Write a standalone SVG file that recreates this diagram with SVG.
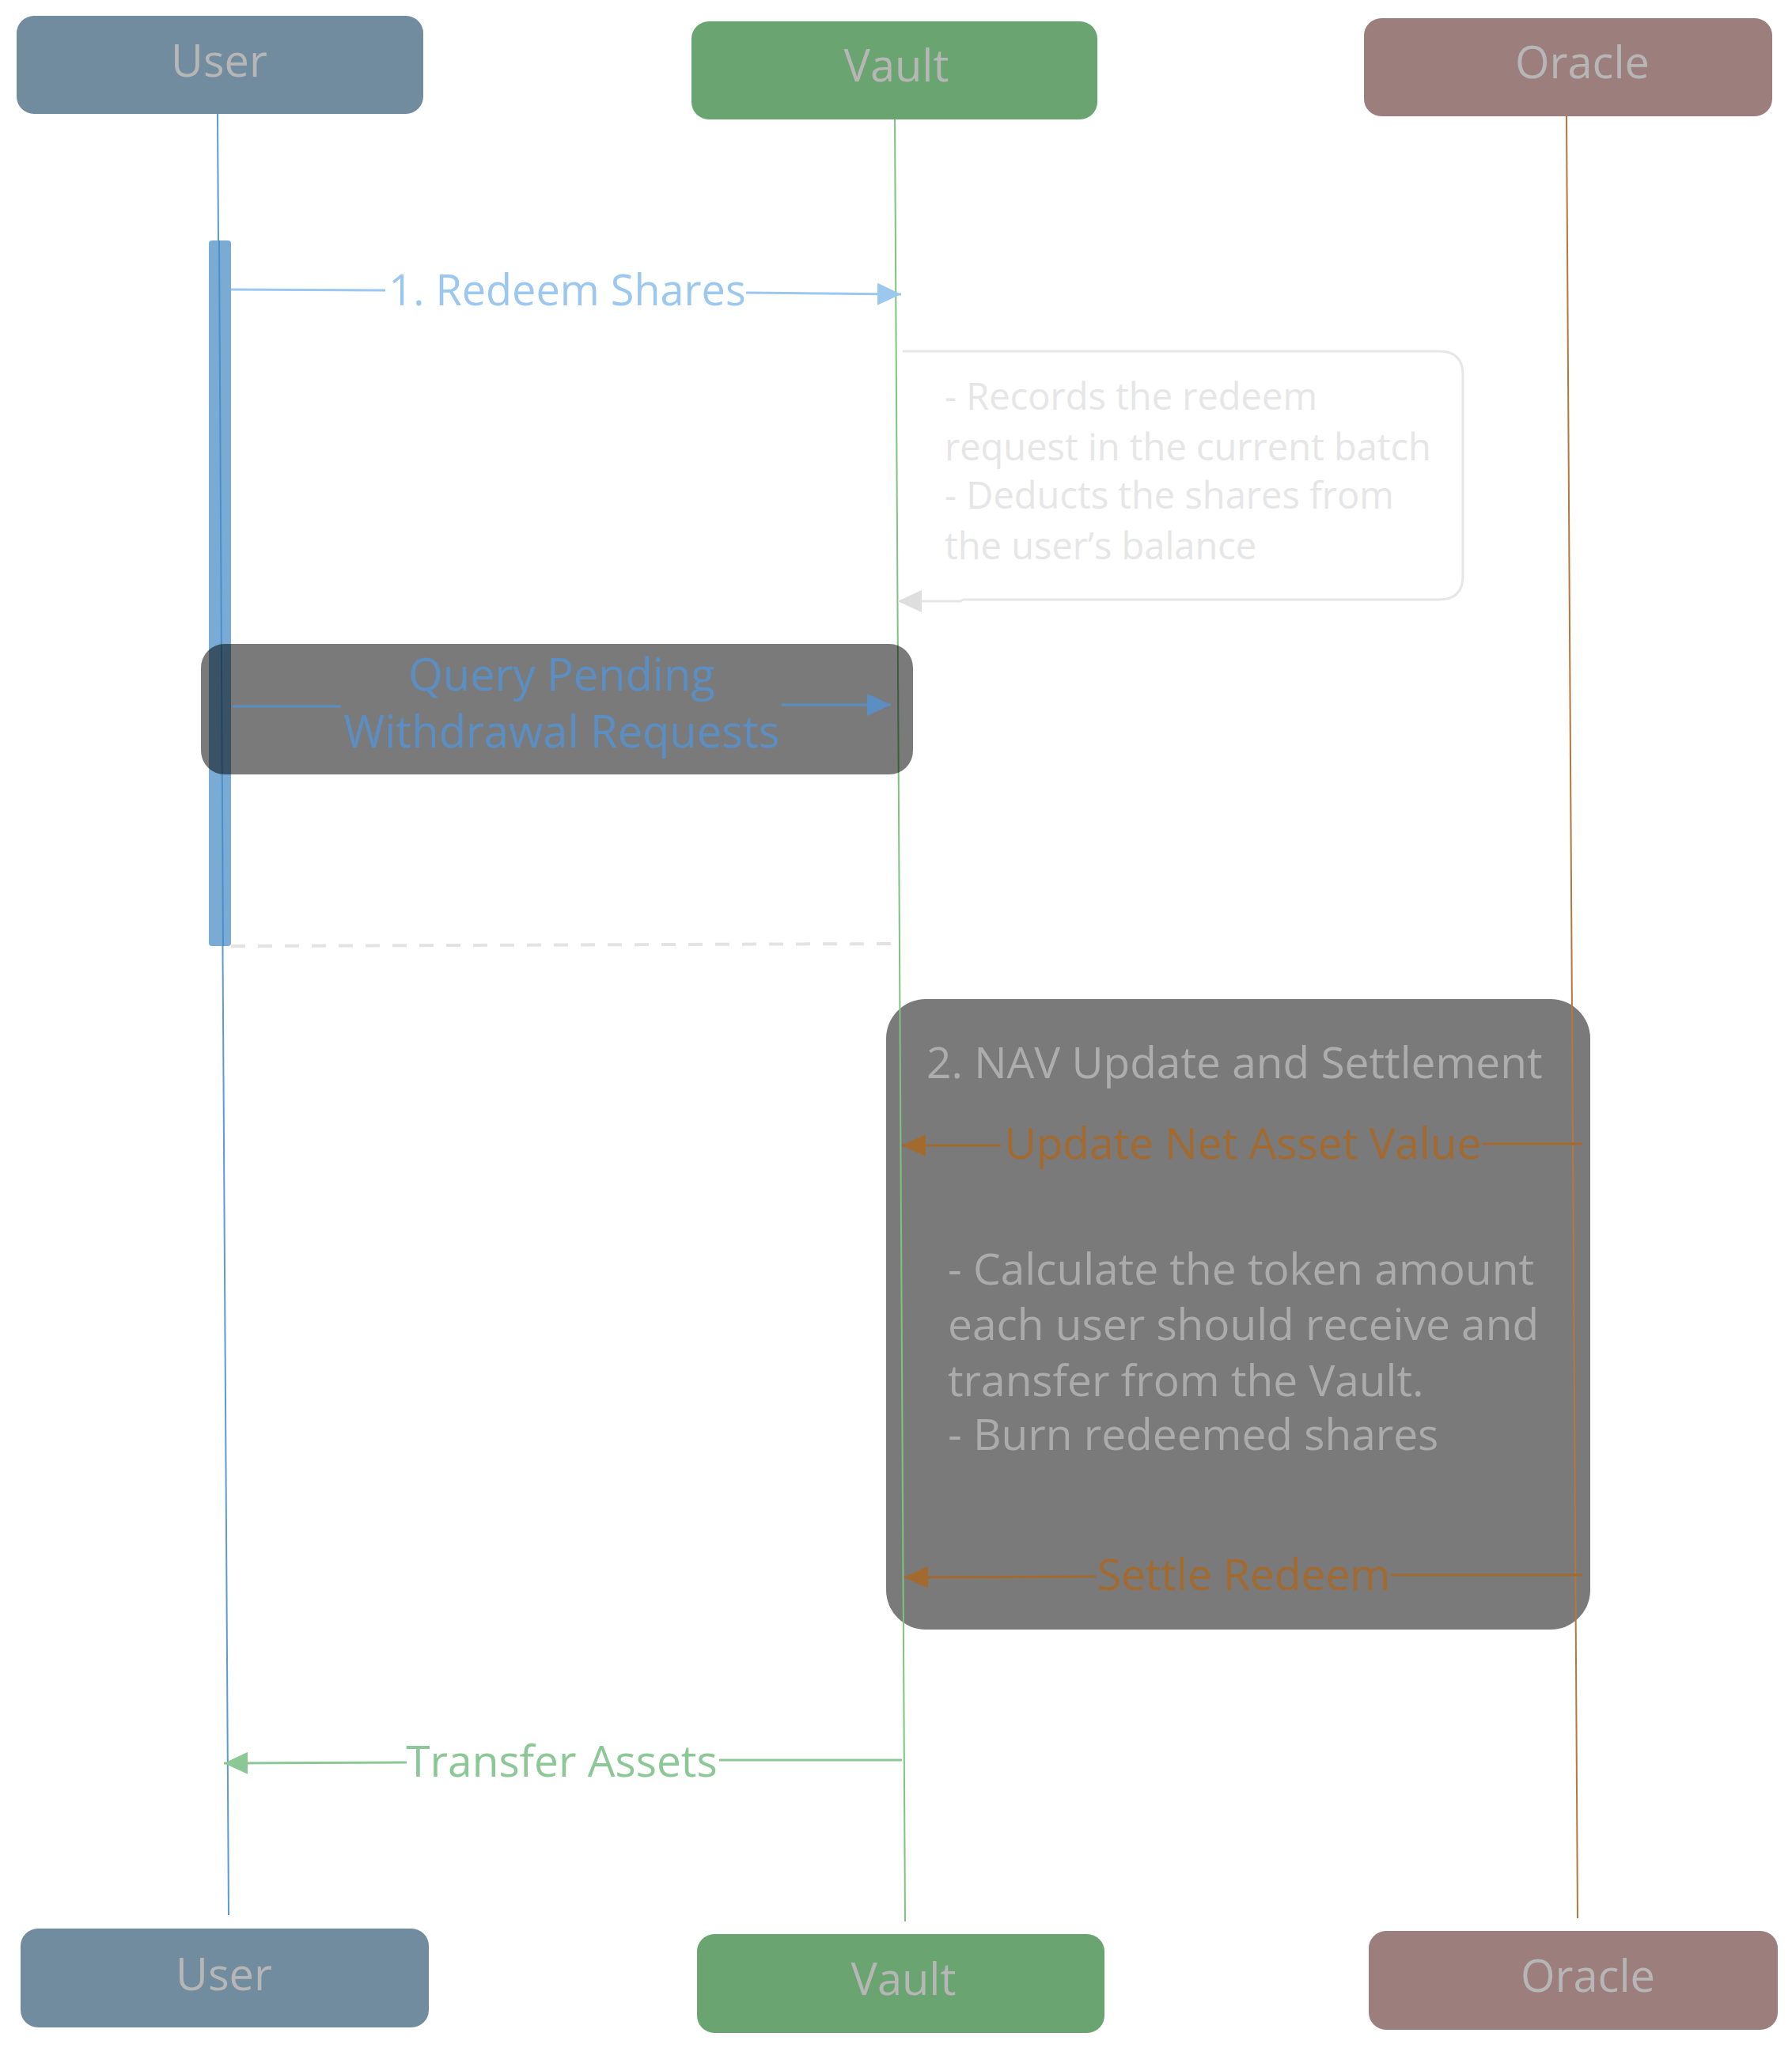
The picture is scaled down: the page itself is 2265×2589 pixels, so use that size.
<svg xmlns="http://www.w3.org/2000/svg" width="2265" height="2589" viewBox="0 0 2265 2589">
<style>
text{font-family:"Open Sans","Noto Sans","Liberation Sans",sans-serif;font-weight:500}
.head{font-size:56px;fill:#b6b6b6;text-anchor:middle}
.ll{fill:none;stroke-width:2}
.msg{fill:none;stroke-width:3}
.lbl{font-size:54px;text-anchor:middle}
.note{font-size:47px;fill:#e6e6e6}
.body{font-size:55px;fill:#ababab}
</style>
<defs>
<marker id="aBlue" markerUnits="userSpaceOnUse" markerWidth="30" markerHeight="28" refX="30" refY="14" orient="auto"><path d="M0,0L30,14L0,28z" fill="#9cc7ee"/></marker>
<marker id="aQuery" markerUnits="userSpaceOnUse" markerWidth="30" markerHeight="28" refX="30" refY="14" orient="auto"><path d="M0,0L30,14L0,28z" fill="#5b8fc4"/></marker>
<marker id="aGray" markerUnits="userSpaceOnUse" markerWidth="30" markerHeight="28" refX="30" refY="14" orient="auto"><path d="M0,0L30,14L0,28z" fill="#dedede"/></marker>
<marker id="aOrange" markerUnits="userSpaceOnUse" markerWidth="30" markerHeight="28" refX="30" refY="14" orient="auto"><path d="M0,0L30,14L0,28z" fill="#a36a2f"/></marker>
<marker id="aGreen" markerUnits="userSpaceOnUse" markerWidth="30" markerHeight="28" refX="30" refY="14" orient="auto"><path d="M0,0L30,14L0,28z" fill="#8cc796"/></marker>
</defs>
<rect width="2265" height="2589" fill="#ffffff"/>

<g id="fragment-nav">
<rect x="1120" y="1263" width="890" height="797" rx="50" fill="#7a7a7b"/>
<text x="1171" y="1363" style="font-size:55px;fill:#adadad">2. NAV Update and Settlement</text>
<text class="body" x="1198" y="1624">- Calculate the token amount</text>
<text class="body" x="1198" y="1694">each user should receive and</text>
<text class="body" x="1198" y="1765">transfer from the Vault.</text>
<text class="body" x="1198" y="1833">- Burn redeemed shares</text>
</g>

<g id="lifelines">
<line class="ll" x1="275" y1="144" x2="289" y2="2421" stroke="#5b9bd5"/>
<line class="ll" x1="1131" y1="151" x2="1144" y2="2429" stroke="#7dc47f"/>
<line class="ll" x1="1980" y1="147" x2="1994" y2="2425" stroke="#b8773a"/>
</g>

<g id="activation-user">
<rect x="264" y="304" width="28" height="892" rx="4" fill="#7aabd4"/>
<line x1="277" y1="304" x2="282" y2="1196" stroke="#4f8ec8" stroke-width="2"/>
</g>

<g id="connectors">
<path class="msg" d="M292,366L487,367" stroke="#9cc7ee"/>
<path class="msg" d="M943,370L1139,372" stroke="#9cc7ee" marker-end="url(#aBlue)"/>
<path d="M1141,444H1819Q1849,444 1849,474V728Q1849,758 1819,758H1218L1214,760H1135" fill="none" stroke="#e6e6e6" stroke-width="3" marker-end="url(#aGray)"/>
<path d="M292,1196L1127,1193" fill="none" stroke="#e3e3e3" stroke-width="4" stroke-dasharray="18 16"/>
<path class="msg" d="M1265,1448L1140,1448" stroke="#a36a2f" marker-end="url(#aOrange)"/>
<path class="msg" d="M1874,1446L2000,1446" stroke="#a36a2f"/>
<path class="msg" d="M1385,1993L1143,1994" stroke="#a36a2f" marker-end="url(#aOrange)"/>
<path class="msg" d="M1758,1991L2000,1991" stroke="#a36a2f"/>
<path class="msg" d="M514,2228L283,2229" stroke="#8cc796" marker-end="url(#aGreen)"/>
<path class="msg" d="M909,2225L1140,2225" stroke="#8cc796"/>
</g>

<g id="labels">
<text class="lbl" x="717" y="386" fill="#9cc7ee">1. Redeem Shares</text>
<text class="note" x="1194" y="518">- Records the redeem</text>
<text class="note" x="1194" y="582">request in the current batch</text>
<text class="note" x="1194" y="643">- Deducts the shares from</text>
<text class="note" x="1194" y="707">the user’s balance</text>
<text class="lbl" x="1571" y="1465" style="font-size:55px" fill="#a36a2f">Update Net Asset Value</text>
<text class="lbl" x="1572" y="2010" style="font-size:55px" fill="#a36a2f">Settle Redeem</text>
<text class="lbl" x="710" y="2246" style="font-size:55px" fill="#8cc796">Transfer Assets</text>
</g>

<g id="query-note">
<rect x="254" y="814" width="900" height="165" rx="30" fill="#000000" fill-opacity="0.52"/>
<path class="msg" d="M294,893L431,893" stroke="#5b8fc4"/>
<path class="msg" d="M988,891L1126,891" stroke="#5b8fc4" marker-end="url(#aQuery)"/>
<text class="lbl" x="710" y="873" style="font-size:56px" fill="#5b8fc4">Query Pending</text>
<text class="lbl" x="710" y="945" style="font-size:56px" fill="#5b8fc4">Withdrawal Requests</text>
</g>

<g id="user-top"><rect x="21" y="20" width="514" height="124" rx="22" fill="#718c9e"/><text class="head" x="277" y="97">User</text></g>
<g id="vault-top"><rect x="874" y="27" width="513" height="124" rx="22" fill="#6aa471"/><text class="head" x="1133" y="103">Vault</text></g>
<g id="oracle-top"><rect x="1724" y="23" width="516" height="124" rx="22" fill="#9c7e7d"/><text class="head" x="2000" y="99">Oracle</text></g>
<g id="user-bottom"><rect x="26" y="2438" width="516" height="125" rx="22" fill="#718c9e"/><text class="head" x="283" y="2516">User</text></g>
<g id="vault-bottom"><rect x="881" y="2445" width="515" height="125" rx="22" fill="#6aa471"/><text class="head" x="1142" y="2522">Vault</text></g>
<g id="oracle-bottom"><rect x="1730" y="2441" width="517" height="125" rx="22" fill="#9c7e7d"/><text class="head" x="2007" y="2518">Oracle</text></g>
</svg>
